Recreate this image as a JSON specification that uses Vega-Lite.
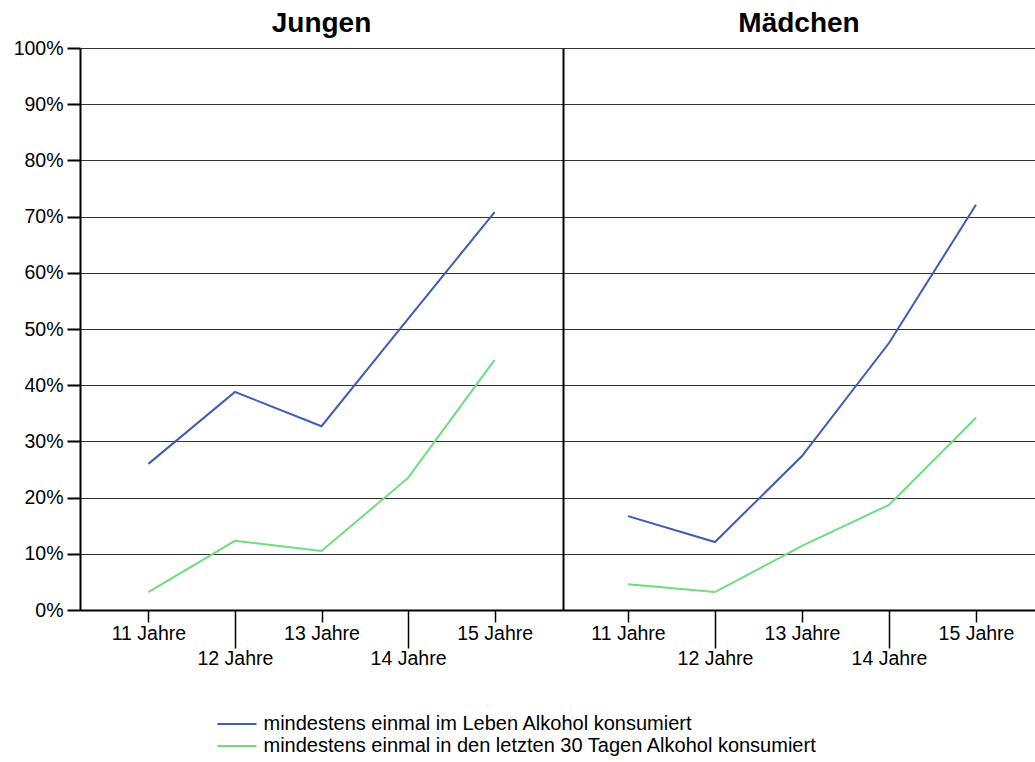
{
  "$schema": "https://vega.github.io/schema/vega-lite/v6.json",
  "padding": {"left": 13, "top": 10, "right": 0, "bottom": 0},
  "spacing": 0,
  "config": {
    "font": "Liberation Sans",
    "view": {"stroke": null},
    "title": {"font": "Liberation Sans", "fontSize": 28, "fontWeight": "bold", "color": "black", "anchor": "middle", "baseline": "bottom"}
  },
  "data": {
    "values": [
      {"g": "Jungen", "age": "11 Jahre", "s": "mindestens einmal im Leben Alkohol konsumiert", "v": 0.26},
      {"g": "Jungen", "age": "12 Jahre", "s": "mindestens einmal im Leben Alkohol konsumiert", "v": 0.388},
      {"g": "Jungen", "age": "13 Jahre", "s": "mindestens einmal im Leben Alkohol konsumiert", "v": 0.327},
      {"g": "Jungen", "age": "14 Jahre", "s": "mindestens einmal im Leben Alkohol konsumiert", "v": 0.518},
      {"g": "Jungen", "age": "15 Jahre", "s": "mindestens einmal im Leben Alkohol konsumiert", "v": 0.708},
      {"g": "Jungen", "age": "11 Jahre", "s": "mindestens einmal in den letzten 30 Tagen Alkohol konsumiert", "v": 0.032},
      {"g": "Jungen", "age": "12 Jahre", "s": "mindestens einmal in den letzten 30 Tagen Alkohol konsumiert", "v": 0.123},
      {"g": "Jungen", "age": "13 Jahre", "s": "mindestens einmal in den letzten 30 Tagen Alkohol konsumiert", "v": 0.105},
      {"g": "Jungen", "age": "14 Jahre", "s": "mindestens einmal in den letzten 30 Tagen Alkohol konsumiert", "v": 0.235},
      {"g": "Jungen", "age": "15 Jahre", "s": "mindestens einmal in den letzten 30 Tagen Alkohol konsumiert", "v": 0.445},
      {"g": "Mädchen", "age": "11 Jahre", "s": "mindestens einmal im Leben Alkohol konsumiert", "v": 0.167},
      {"g": "Mädchen", "age": "12 Jahre", "s": "mindestens einmal im Leben Alkohol konsumiert", "v": 0.121},
      {"g": "Mädchen", "age": "13 Jahre", "s": "mindestens einmal im Leben Alkohol konsumiert", "v": 0.274},
      {"g": "Mädchen", "age": "14 Jahre", "s": "mindestens einmal im Leben Alkohol konsumiert", "v": 0.475},
      {"g": "Mädchen", "age": "15 Jahre", "s": "mindestens einmal im Leben Alkohol konsumiert", "v": 0.721},
      {"g": "Mädchen", "age": "11 Jahre", "s": "mindestens einmal in den letzten 30 Tagen Alkohol konsumiert", "v": 0.046},
      {"g": "Mädchen", "age": "12 Jahre", "s": "mindestens einmal in den letzten 30 Tagen Alkohol konsumiert", "v": 0.032},
      {"g": "Mädchen", "age": "13 Jahre", "s": "mindestens einmal in den letzten 30 Tagen Alkohol konsumiert", "v": 0.114},
      {"g": "Mädchen", "age": "14 Jahre", "s": "mindestens einmal in den letzten 30 Tagen Alkohol konsumiert", "v": 0.187},
      {"g": "Mädchen", "age": "15 Jahre", "s": "mindestens einmal in den letzten 30 Tagen Alkohol konsumiert", "v": 0.342}
    ]
  },
  "resolve": {"scale": {"x": "independent", "y": "independent", "color": "shared"}, "axis": {"x": "independent", "y": "independent"}, "legend": {"color": "shared"}},
  "hconcat": [
    {
      "width": 483,
      "height": 562,
      "title": {"text": "Jungen", "offset": 0},
      "transform": [{"filter": "datum.g == 'Jungen'"}],
      "mark": {"type": "line", "strokeWidth": 2},
      "encoding": {
        "x": {
          "field": "age", "type": "ordinal", "sort": null,
          "scale": {"type": "point", "padding": 0.79},
          "axis": {
            "title": null, "labelAngle": 0, "labelFont": "Liberation Sans", "labelFontSize": 19.5, "labelColor": "black",
            "labelBaseline": "top",
            "labelPadding": {"condition": {"test": "datum.value == '12 Jahre' || datum.value == '14 Jahre'", "value": 1}, "value": 2},
            "tickSize": {"condition": {"test": "datum.value == '12 Jahre' || datum.value == '14 Jahre'", "value": 38}, "value": 12},
            "tickColor": "black", "tickWidth": 1.5, "domainColor": "black", "domainWidth": 2, "grid": false
          }
        },
        "y": {
          "field": "v", "type": "quantitative",
          "scale": {"domain": [0, 1]},
          "axis": {
            "title": null, "values": [0, 0.1, 0.2, 0.3, 0.4, 0.5, 0.6, 0.7, 0.8, 0.9, 1], "format": ".0%",
            "labelFont": "Liberation Sans", "labelFontSize": 19.5, "labelColor": "black", "labelPadding": 4,
            "tickSize": 13, "tickColor": "black", "tickWidth": 2, "domainColor": "black", "domainWidth": 2,
            "grid": true, "gridColor": "#333333", "gridWidth": 1, "gridOpacity": 1
          }
        },
        "color": {
          "field": "s", "type": "nominal",
          "scale": {"domain": ["mindestens einmal im Leben Alkohol konsumiert", "mindestens einmal in den letzten 30 Tagen Alkohol konsumiert"], "range": ["#3f5bb8", "#6fdc80"]},
          "legend": {
            "orient": "none", "legendX": 147, "legendY": 666, "title": null,
            "symbolType": "M-3,0H3", "symbolSize": 169, "symbolStrokeWidth": 2,
            "labelFont": "Liberation Sans", "labelFontSize": 20, "labelColor": "black", "labelOffset": 16.5,
            "labelLimit": 1000, "rowPadding": 2
          }
        }
      }
    },
    {
      "width": 472,
      "height": 562,
      "title": {"text": "Mädchen", "offset": 10},
      "transform": [{"filter": "datum.g == 'Mädchen'"}],
      "mark": {"type": "line", "strokeWidth": 2},
      "encoding": {
        "x": {
          "field": "age", "type": "ordinal", "sort": null,
          "scale": {"type": "point", "padding": 0.7126, "align": 0.524},
          "axis": {
            "title": null, "labelAngle": 0, "labelFont": "Liberation Sans", "labelFontSize": 19.5, "labelColor": "black",
            "labelBaseline": "top",
            "labelPadding": {"condition": {"test": "datum.value == '12 Jahre' || datum.value == '14 Jahre'", "value": 1}, "value": 2},
            "tickSize": {"condition": {"test": "datum.value == '12 Jahre' || datum.value == '14 Jahre'", "value": 38}, "value": 12},
            "tickColor": "black", "tickWidth": 1.5, "domainColor": "black", "domainWidth": 2, "grid": false
          }
        },
        "y": {
          "field": "v", "type": "quantitative",
          "scale": {"domain": [0, 1]},
          "axis": {
            "title": null, "values": [0, 0.1, 0.2, 0.3, 0.4, 0.5, 0.6, 0.7, 0.8, 0.9, 1],
            "labels": false, "ticks": false, "domainColor": "black", "domainWidth": 2,
            "grid": true, "gridColor": "#333333", "gridWidth": 1, "gridOpacity": 1
          }
        },
        "color": {
          "field": "s", "type": "nominal",
          "legend": {
            "orient": "none", "legendX": 147, "legendY": 666, "title": null,
            "symbolType": "M-3,0H3", "symbolSize": 169, "symbolStrokeWidth": 2,
            "labelFont": "Liberation Sans", "labelFontSize": 20, "labelColor": "black", "labelOffset": 16.5,
            "labelLimit": 1000, "rowPadding": 2
          }
        }
      }
    }
  ]
}
